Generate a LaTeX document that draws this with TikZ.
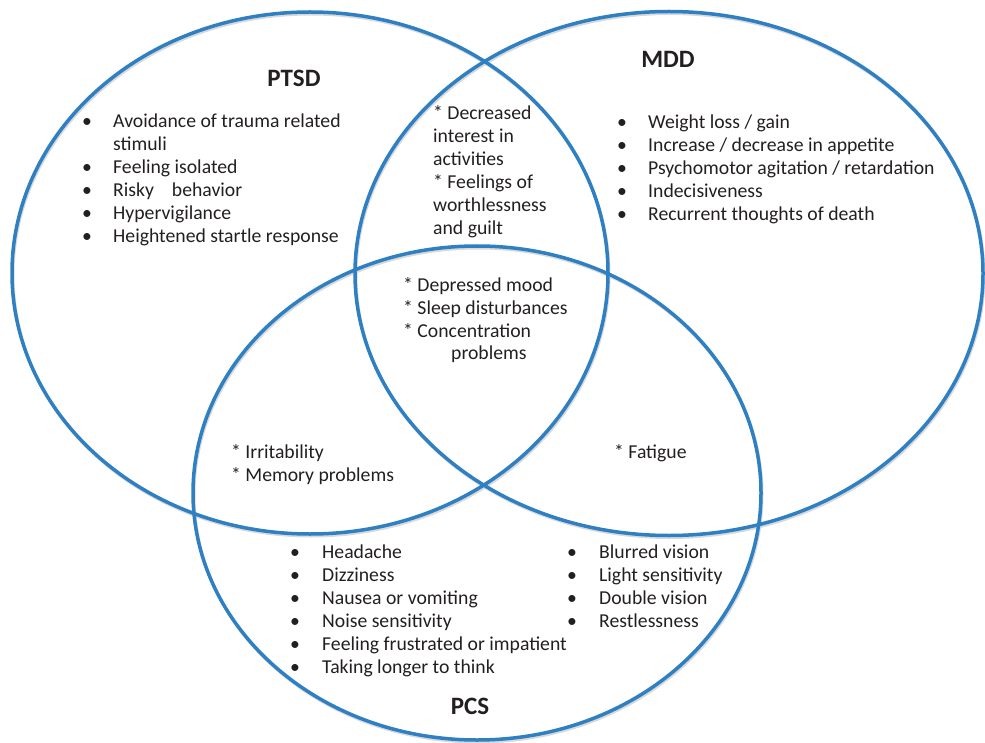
\documentclass[tikz,border=0pt]{standalone}
\usepackage{fontspec}
\setmainfont{Carlito}

\definecolor{ringblue}{RGB}{47,128,194}
\definecolor{ink}{RGB}{35,31,32}

\begin{document}
\begin{tikzpicture}[
  x=1pt, y=-1pt,
  ring/.style={draw=ringblue, line width=3.5pt},
  ringshade/.style={draw=black!15, line width=3pt},
  txt/.style={font=\fontsize{19.7}{23}\selectfont, text=ink, inner sep=0pt, anchor=base west},
  head/.style={font=\fontsize{25}{30}\selectfont\bfseries, text=ink, inner sep=0pt, anchor=base},
]
\useasboundingbox (0,0) rectangle (985,743);

% ------------------------------------------------------------------
% the three sets
% ------------------------------------------------------------------
\coordinate (ptsd) at (310,273);
\coordinate (mdd)  at (669,273.5);
\coordinate (pcs)  at (477,493);

% faint shadow under each ring
\foreach \c/\rx/\ry in {ptsd/298/261, mdd/314/262, pcs/284/247}{
  \draw[ringshade] ([shift={(1,2)}]\c) ellipse [x radius=\rx pt, y radius=\ry pt];
}
\draw[ring] (ptsd) ellipse [x radius=298pt, y radius=261pt];
\draw[ring] (mdd)  ellipse [x radius=314pt, y radius=262pt];
\draw[ring] (pcs)  ellipse [x radius=284pt, y radius=247pt];

% ------------------------------------------------------------------
% set titles
% ------------------------------------------------------------------
\node[head] (ptsdhead) at (294,87)  {PTSD};
\node[head] (mddhead)  at (668,68)  {MDD};
\node[head] (pcshead)  at (470,714) {PCS};

% ------------------------------------------------------------------
% symptoms of one set only
% ------------------------------------------------------------------
\node[txt] (ptsdlist) at (82,128) {\begin{tabular}[t]{@{}p{31pt}@{}l@{}}
  \textbullet & Avoidance of trauma related\\
              & stimuli\\
  \textbullet & Feeling isolated\\
  \textbullet & Risky\hspace{13.5pt} behavior\\
  \textbullet & Hypervigilance\\
  \textbullet & Heightened startle response
\end{tabular}};

\node[txt] (mddlist) at (617,129) {\begin{tabular}[t]{@{}p{31pt}@{}l@{}}
  \textbullet & Weight loss / gain\\
  \textbullet & Increase / decrease in appetite\\
  \textbullet & Psychomotor agitation / retardation\\
  \textbullet & Indecisiveness\\
  \textbullet & Recurrent thoughts of death
\end{tabular}};

\node[txt] (pcslistl) at (290,558) {\begin{tabular}[t]{@{}p{32pt}@{}l@{}}
  \textbullet & Headache\\
  \textbullet & Dizziness\\
  \textbullet & Nausea or vomiting\\
  \textbullet & Noise sensitivity\\
  \textbullet & Feeling frustrated or impatient\\
  \textbullet & Taking longer to think
\end{tabular}};

\node[txt] (pcslistr) at (567,558) {\begin{tabular}[t]{@{}p{32pt}@{}l@{}}
  \textbullet & Blurred vision\\
  \textbullet & Light sensitivity\\
  \textbullet & Double vision\\
  \textbullet & Restlessness
\end{tabular}};

% ------------------------------------------------------------------
% shared symptoms
% ------------------------------------------------------------------
\node[txt] (ptsdmdd) at (433,120) {\begin{tabular}[t]{@{}l@{}}
  {*} Decreased\\
  interest in\\
  activities\\
  {*} Feelings of\\
  worthlessness\\
  and guilt
\end{tabular}};

\node[txt] (allthree) at (403,291) {\begin{tabular}[t]{@{}l@{}}
  {*} Depressed mood\\
  {*} Sleep disturbances\\
  {*} Concentration\\
  \hspace*{48pt}problems
\end{tabular}};

\node[txt] (ptsdpcs) at (231,458) {\begin{tabular}[t]{@{}l@{}}
  {*} Irritability\\
  {*} Memory problems
\end{tabular}};

\node[txt] (mddpcs) at (614,458) {{*} Fatigue};
\end{tikzpicture}
\end{document}
